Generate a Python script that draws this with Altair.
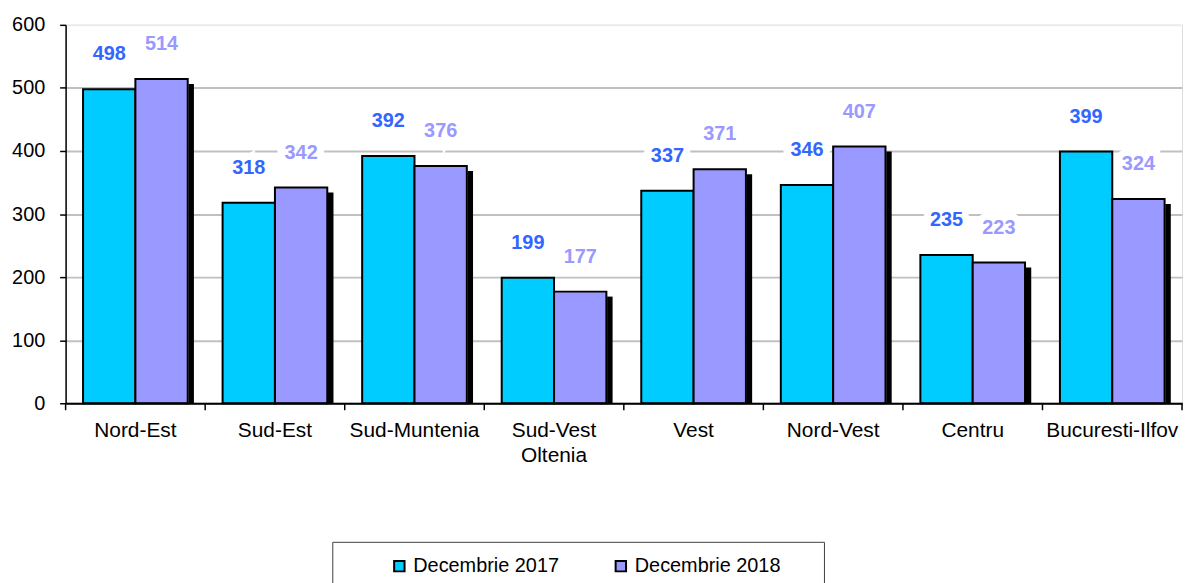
import altair as alt
import pandas as pd

regions = ["Nord-Est", "Sud-Est", "Sud-Muntenia", "Sud-Vest Oltenia", "Vest",
           "Nord-Vest", "Centru", "Bucuresti-Ilfov"]
series = ["Decembrie 2017", "Decembrie 2018"]
values_2017 = [498, 318, 392, 199, 337, 346, 235, 399]
values_2018 = [514, 342, 376, 177, 371, 407, 223, 324]
y_ticks = [0, 100, 200, 300, 400, 500, 600]

df17 = pd.DataFrame({"region": regions, "series": series[0], "value": values_2017})
df18 = pd.DataFrame({"region": regions, "series": series[1], "value": values_2018})
df_all = pd.concat([df17, df18], ignore_index=True)
df_regions = pd.DataFrame({"region": regions})
df_one = pd.DataFrame({"k": [0]})

W, H = 1124, 381
FONT = "Liberation Sans"
bar_colors = ["#00CCFF", "#9999FF"]
label_colors = ["#3366FF", "#9999FF"]

xscale = alt.Scale(domain=regions, paddingInner=0.25, paddingOuter=0.125)
yscale = alt.Scale(domain=[0, 600], nice=False)

x_axis = alt.Axis(title=None, labelExpr="split(datum.label, ' ')", ticks=False,
                  domain=True, domainColor="black", domainWidth=2, labelAngle=0,
                  labelFont=FONT, labelFontSize=21, labelColor="black",
                  labelPadding=16, labelLineHeight=26, zindex=1, grid=False)
y_axis = alt.Axis(title=None, values=y_ticks, grid=True,
                  gridColor=alt.condition("datum.value == 600", alt.value("#EBEBEB"), alt.value("#C0C0C0")),
                  gridWidth=2, domain=True, domainColor="black", domainWidth=1.5,
                  ticks=True, tickColor="black", tickSize=6, tickWidth=1.5,
                  labelFont=FONT, labelFontSize=20, labelColor="black", labelPadding=15)

color = alt.Color("series:N", scale=alt.Scale(domain=series, range=bar_colors),
                  legend=alt.Legend(title=None, orient="none", direction="horizontal",
                                    legendX=326, legendY=535, padding=0,
                                    symbolType="square", symbolSize=110,
                                    symbolStrokeColor="black", symbolStrokeWidth=2,
                                    labelFont=FONT, labelFontSize=20, labelColor="black",
                                    labelOffset=4, columnPadding=52))


def xenc(pos=0.5):
    return alt.X("region:N", scale=xscale, bandPosition=pos, axis=x_axis, sort=regions)


def yenc():
    return alt.Y("value:Q", scale=yscale, axis=y_axis)


# drop shadow on the right side of the 2018 bars
shadow = alt.Chart(df18).mark_rule(color="black", strokeWidth=5.5, xOffset=3.5, yOffset=5).encode(
    x=xenc(1), y=yenc(), y2=alt.datum(0))

bars = alt.Chart(df_all).mark_bar(stroke="black", strokeWidth=2).encode(
    x=alt.X("region:N", scale=xscale, axis=x_axis, sort=regions),
    xOffset=alt.XOffset("series:N", sort=series, scale=alt.Scale(paddingInner=0, paddingOuter=0)),
    y=yenc(), color=color)

text_props = dict(font=FONT, fontSize=20, fontWeight="bold", dy=-35, baseline="middle")
halo17 = alt.Chart(df17).mark_text(fill="white", stroke="white", strokeWidth=14, **text_props).encode(
    x=xenc(0.25), y=yenc(), text="value:Q")
halo18 = alt.Chart(df18).mark_text(fill="white", stroke="white", strokeWidth=14, **text_props).encode(
    x=xenc(0.75), y=yenc(), text="value:Q")
text17 = alt.Chart(df17).mark_text(color=label_colors[0], **text_props).encode(
    x=xenc(0.25), y=yenc(), text="value:Q")
text18 = alt.Chart(df18).mark_text(color=label_colors[1], **text_props).encode(
    x=xenc(0.75), y=yenc(), text="value:Q")

ticks = alt.Chart(df_regions).mark_rule(color="black", strokeWidth=1.5, xOffset=-W / 8 * 0.125).encode(
    x=xenc(0), y=alt.value(H), y2=alt.value(H + 7))
end_tick = alt.Chart(df_one).mark_rule(color="black", strokeWidth=1.5).encode(
    x=alt.value(W), y=alt.value(H), y2=alt.value(H + 7))

legend_box = alt.Chart(df_one).mark_rect(fill="white", fillOpacity=0, stroke="#404040", strokeWidth=1).encode(
    x=alt.value(269), x2=alt.value(764), y=alt.value(521), y2=alt.value(620))

chart = alt.layer(shadow, bars, halo17, halo18, text17, text18, ticks, end_tick, legend_box).properties(
    width=W, height=H,
    autosize=alt.AutoSizeParams(type="none"),
    padding={"left": 58, "top": 15, "right": 5, "bottom": 179},
).configure_view(stroke=None).configure(background="white")

chart.save("out.html", embed_options={"renderer": "svg", "actions": False})
